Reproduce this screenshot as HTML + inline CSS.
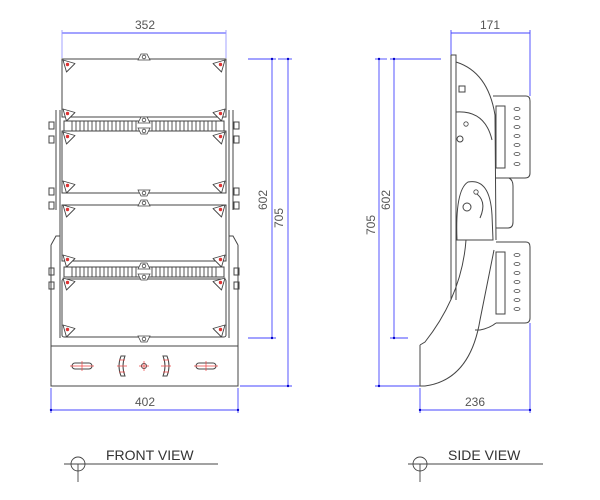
<!DOCTYPE html>
<html><head><style>html,body{margin:0;padding:0;background:#fff}svg{display:block}</style></head><body>
<svg width="600" height="500" viewBox="0 0 600 500" xmlns="http://www.w3.org/2000/svg" font-family="Liberation Sans, sans-serif">
<defs>
<g id="tri"><path d="M-6,-6 L6,-2.5 L-2.5,6 Z" fill="#fff" stroke="#444" stroke-width="0.9" stroke-linejoin="round"/><circle cx="-1.5" cy="-1.5" r="1.7" fill="#d33"/></g>
<g id="tab"><path d="M-6,3 L-3,-3 L3,-3 L6,3 Z" fill="#fff" stroke="#444" stroke-width="0.8"/><circle cx="0" cy="0" r="1.8" fill="none" stroke="#444" stroke-width="0.8"/></g>
</defs>
<g stroke="#44f" stroke-width="0.9" fill="none">
<line x1="62" y1="33" x2="226" y2="33"/><line x1="62" y1="30" x2="62" y2="58" stroke="#99f"/><line x1="226" y1="30" x2="226" y2="58" stroke="#99f"/>
<line x1="51" y1="410" x2="238" y2="410"/><line x1="51" y1="388" x2="51" y2="413"/><line x1="238" y1="388" x2="238" y2="413"/>
<line x1="272" y1="59" x2="272" y2="338"/><line x1="248" y1="59" x2="276" y2="59"/><line x1="248" y1="338" x2="276" y2="338"/>
<line x1="288" y1="59" x2="288" y2="386"/><line x1="278" y1="59" x2="292" y2="59"/><line x1="240" y1="386" x2="292" y2="386"/>
<line x1="379" y1="59" x2="379" y2="386"/><line x1="375" y1="59" x2="387" y2="59"/><line x1="375" y1="386" x2="420" y2="386"/>
<line x1="394" y1="59" x2="394" y2="338"/><line x1="390" y1="59" x2="441" y2="59"/><line x1="390" y1="338" x2="408" y2="338"/>
<line x1="451" y1="33" x2="530" y2="33"/><line x1="451" y1="30" x2="451" y2="55"/><line x1="530" y1="30" x2="530" y2="96"/><line x1="530" y1="323" x2="530" y2="413"/>
<line x1="420" y1="410" x2="530" y2="410"/><line x1="420" y1="388" x2="420" y2="413"/>
</g>
<g fill="#00c"><circle cx="272" cy="59" r="1.2"/><circle cx="272" cy="338" r="1.2"/><circle cx="288" cy="59" r="1.2"/><circle cx="288" cy="386" r="1.2"/><circle cx="379" cy="59" r="1.2"/><circle cx="379" cy="386" r="1.2"/><circle cx="394" cy="59" r="1.2"/><circle cx="394" cy="338" r="1.2"/><circle cx="51" cy="410" r="1.2"/><circle cx="238" cy="410" r="1.2"/><circle cx="420" cy="410" r="1.2"/><circle cx="530" cy="410" r="1.2"/></g>
<g fill="#555" font-size="12">
<text x="145" y="29" text-anchor="middle">352</text><text x="145" y="406" text-anchor="middle">402</text>
<text x="490" y="29" text-anchor="middle">171</text><text x="475" y="406" text-anchor="middle">236</text>
<text transform="translate(267,200) rotate(-90)" text-anchor="middle">602</text>
<text transform="translate(283,218) rotate(-90)" text-anchor="middle">705</text>
<text transform="translate(375,225) rotate(-90)" text-anchor="middle">705</text>
<text transform="translate(390,200) rotate(-90)" text-anchor="middle">602</text>
</g>
<g stroke="#444" stroke-width="1" fill="none">
<path d="M51,245 L56,236 L60,236 L60,338 M238,245 L233,236 L229,236 L229,338"/>
<rect x="51" y="346" width="187" height="40"/>
<line x1="51" y1="245" x2="51" y2="346"/><line x1="238" y1="245" x2="238" y2="346"/>
<rect x="62" y="59" width="164" height="58"/>
<rect x="62" y="131" width="164" height="62"/>
<rect x="62" y="205" width="164" height="56"/>
<rect x="62" y="279" width="164" height="58" rx="2"/>
<line x1="60" y1="110" x2="60" y2="338"/><line x1="229" y1="110" x2="229" y2="338"/>
<line x1="56" y1="110" x2="56" y2="210"/><line x1="233" y1="110" x2="233" y2="210"/>
<rect x="64" y="121" width="160" height="10" fill="#fff"/>
<rect x="64" y="267" width="160" height="10" fill="#fff"/>
<rect x="49" y="122" width="5" height="7"/><rect x="49" y="136" width="5" height="7"/><rect x="234" y="122" width="5" height="7"/><rect x="234" y="136" width="5" height="7"/>
<rect x="49" y="188" width="5" height="7"/><rect x="49" y="202" width="5" height="7"/><rect x="234" y="188" width="5" height="7"/><rect x="234" y="202" width="5" height="7"/>
<rect x="49" y="268" width="5" height="7"/><rect x="49" y="282" width="5" height="7"/><rect x="234" y="268" width="5" height="7"/><rect x="234" y="282" width="5" height="7"/>
</g>
<g stroke="#444" stroke-width="0.9">
<path d="M72,121v10M76,121v10M80,121v10M84,121v10M88,121v10M92,121v10M96,121v10M100,121v10M104,121v10M108,121v10M112,121v10M116,121v10M120,121v10M124,121v10M128,121v10M132,121v10M136,121v10M152,121v10M156,121v10M160,121v10M164,121v10M168,121v10M172,121v10M176,121v10M180,121v10M184,121v10M188,121v10M192,121v10M196,121v10M200,121v10M204,121v10M208,121v10M212,121v10M216,121v10"/>
<path d="M72,267v10M76,267v10M80,267v10M84,267v10M88,267v10M92,267v10M96,267v10M100,267v10M104,267v10M108,267v10M112,267v10M116,267v10M120,267v10M124,267v10M128,267v10M132,267v10M136,267v10M152,267v10M156,267v10M160,267v10M164,267v10M168,267v10M172,267v10M176,267v10M180,267v10M184,267v10M188,267v10M192,267v10M196,267v10M200,267v10M204,267v10M208,267v10M212,267v10M216,267v10"/>
</g>
<g>
<use href="#tri" transform="translate(69,66)"/><use href="#tri" transform="translate(219,66) scale(-1,1)"/>
<use href="#tri" transform="translate(69,115)"/><use href="#tri" transform="translate(219,115) scale(-1,1)"/>
<use href="#tri" transform="translate(69,138)"/><use href="#tri" transform="translate(219,138) scale(-1,1)"/>
<use href="#tri" transform="translate(69,187)"/><use href="#tri" transform="translate(219,187) scale(-1,1)"/>
<use href="#tri" transform="translate(69,211)"/><use href="#tri" transform="translate(219,211) scale(-1,1)"/>
<use href="#tri" transform="translate(69,261)"/><use href="#tri" transform="translate(219,261) scale(-1,1)"/>
<use href="#tri" transform="translate(69,284)"/><use href="#tri" transform="translate(219,284) scale(-1,1)"/>
<use href="#tri" transform="translate(69,331)"/><use href="#tri" transform="translate(219,331) scale(-1,1)"/>
<use href="#tab" transform="translate(144,57)"/><use href="#tab" transform="translate(144,120)"/><use href="#tab" transform="translate(144,131) scale(1,-1)"/>
<use href="#tab" transform="translate(144,193) scale(1,-1)"/><use href="#tab" transform="translate(144,203)"/>
<use href="#tab" transform="translate(144,266)"/><use href="#tab" transform="translate(144,277) scale(1,-1)"/><use href="#tab" transform="translate(144,339) scale(1,-1)"/>
</g>
<g stroke="#444" stroke-width="1" fill="none">
<rect x="72" y="363" width="20" height="6" rx="3"/><rect x="196" y="363" width="20" height="6" rx="3"/>
<path d="M121,356 Q117,366 121,376 L125,376 Q121,366 125,356 Z"/><path d="M167,356 Q171,366 167,376 L163,376 Q167,366 163,356 Z"/>
<circle cx="144" cy="366" r="2.5"/>
</g>
<g stroke="#e44" stroke-width="0.7"><path d="M70,366h24M82,361v10M194,366h24M206,361v10M117,366h10M119,360h6M119,372h6M161,366h10M163,360h6M163,372h6M139,366h10M144,361v10"/></g>
<g stroke="#444" stroke-width="1" fill="none">
<path d="M451,55 L456,55 L456,300 M451,55 L451,300"/>
<path d="M456,62 Q488,72 495,115 L496,240"/>
<path d="M456,112 Q485,110 492,140"/>
<rect x="459" y="86" width="6" height="6"/>
<path d="M493,96 L526,96 Q530,96 530,101 L530,173 Q530,178 525,178 L496,178"/>
<rect x="496" y="106" width="9" height="62"/>
<path d="M496,178 L509,178 Q513,180 513,186 L513,222 Q513,228 508,228 L496,228"/>
<path d="M496,242 L526,242 Q530,242 530,247 L530,318 Q530,323 525,323 L496,323"/>
<rect x="496" y="252" width="9" height="62"/>
<path d="M457,240 Q455,190 468,182 Q490,178 492,215 L493,240 Z"/>
<line x1="463" y1="240" x2="493" y2="240"/>
<path d="M420,345 L425,342 Q462,295 466,240 M420,345 L420,386 L425,386 Q470,380 480,320 L494,250"/>
<path d="M475,330 L480,330 Q490,328 496,323"/>
<circle cx="467" cy="207" r="4"/><circle cx="460" cy="139" r="3"/>
<path d="M474,192 Q488,200 480,218"/>
</g>
<g fill="#fff" stroke="#444" stroke-width="0.8">
<ellipse cx="517" cy="109" rx="3" ry="1.5"/><ellipse cx="517" cy="118" rx="3" ry="1.5"/><ellipse cx="517" cy="127" rx="3" ry="1.5"/><ellipse cx="517" cy="136" rx="3" ry="1.5"/><ellipse cx="517" cy="145" rx="3" ry="1.5"/><ellipse cx="517" cy="154" rx="3" ry="1.5"/><ellipse cx="517" cy="164" rx="3" ry="1.5"/>
<ellipse cx="517" cy="255" rx="3" ry="1.5"/><ellipse cx="517" cy="264" rx="3" ry="1.5"/><ellipse cx="517" cy="273" rx="3" ry="1.5"/><ellipse cx="517" cy="282" rx="3" ry="1.5"/><ellipse cx="517" cy="291" rx="3" ry="1.5"/><ellipse cx="517" cy="300" rx="3" ry="1.5"/><ellipse cx="517" cy="309" rx="3" ry="1.5"/>
<circle cx="466" cy="124" r="2.2"/><circle cx="476" cy="192" r="2.2"/>
</g>
<g stroke="#444" stroke-width="0.9" fill="none">
<line x1="64" y1="464" x2="218" y2="464"/><circle cx="78" cy="464" r="7"/><line x1="78" y1="464" x2="78" y2="482"/>
<line x1="408" y1="464" x2="543" y2="464"/><circle cx="420" cy="464" r="7"/><line x1="420" y1="464" x2="420" y2="482"/>
</g>
<g fill="#333" font-size="14"><text x="106" y="460">FRONT VIEW</text><text x="448" y="460">SIDE VIEW</text></g>
</svg>
</body></html>
